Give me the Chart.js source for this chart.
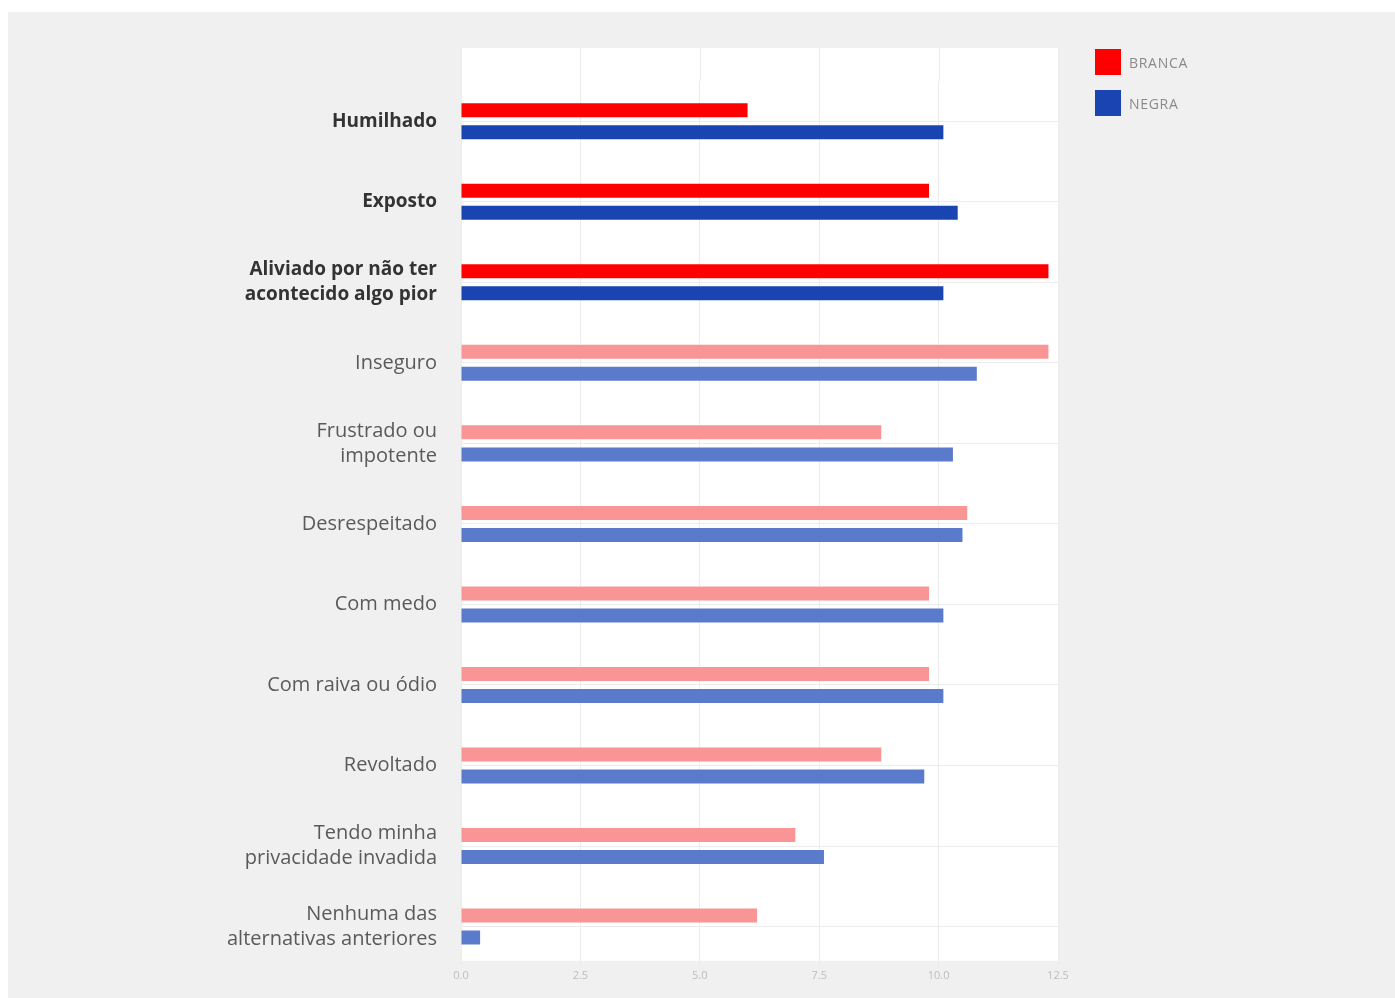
<!DOCTYPE html>
<html lang="pt">
<head>
<meta charset="utf-8">
<title>Sentimentos por raça</title>
<script src="https://cdn.jsdelivr.net/npm/chart.js@4.4.1/dist/chart.umd.min.js"></script>
<style>
    html, body {
        margin: 0;
        padding: 0;
        background: #fff;
        width: 1395px;
        height: 998px;
        overflow: hidden;
    }
    .wrap {
        position: absolute;
        left: 8px;
        top: 12px;
        width: 1387px;
        height: 986px;
        background: #f0f0f0;
    }
    #chart {
        position: absolute;
        left: 0;
        top: 0;
    }
    .legend {
        position: absolute;
        left: 1087px;
        top: 37px;
        font-family: "Open Sans", sans-serif;
        font-size: 14px;
        letter-spacing: 0.7px;
        color: #8a8a8a;
    }
    .legend-item {
        display: flex;
        align-items: center;
        height: 26px;
        margin-bottom: 15px;
    }
    .legend-box {
        width: 26px;
        height: 26px;
        margin-right: 8px;
    }
</style>
</head>
<body>
<div class="wrap">
    <canvas id="chart" width="1387" height="986"></canvas>
    <div class="legend" id="legend"></div>
</div>

<script>
const categorias = [
    'Humilhado',
    'Exposto',
    ['Aliviado por não ter', 'acontecido algo pior'],
    'Inseguro',
    ['Frustrado ou', 'impotente'],
    'Desrespeitado',
    'Com medo',
    'Com raiva ou ódio',
    'Revoltado',
    ['Tendo minha', 'privacidade invadida'],
    ['Nenhuma das', 'alternativas anteriores']
];

const branca = [6.0, 9.8, 12.3, 12.3, 8.8, 10.6, 9.8, 9.8, 8.8, 7.0, 6.2];
const negra = [10.1, 10.4, 10.1, 10.8, 10.3, 10.5, 10.1, 10.1, 9.7, 7.6, 0.4];

const xTicks = [0, 2.5, 5, 7.5, 10, 12.5];

// os três primeiros itens vêm em destaque
const destaques = 3;

const cores = {
    branca: '#ff0000',
    brancaClara: '#f99595',
    negra: '#1a44b2',
    negraClara: '#5a7acb'
};

const corGrade = '#ececec';


// fundo branco da área do gráfico (um pouco maior que a área das categorias)
const plotBackground = {
    id: 'plotBackground',
    beforeDraw(chart) {
        const { ctx, chartArea } = chart;
        const topo = chartArea.top - 33;
        ctx.save();
        ctx.fillStyle = '#ffffff';
        ctx.fillRect(chartArea.left, topo, chartArea.right - chartArea.left, chartArea.bottom - topo - 6);

        // as linhas verticais da grade sobem até o topo do fundo branco
        const xScale = chart.scales.x;
        ctx.strokeStyle = corGrade;
        ctx.lineWidth = 1;
        xScale.ticks.forEach(t => {
            const px = Math.round(xScale.getPixelForValue(t.value)) + 0.5;
            ctx.beginPath();
            ctx.moveTo(px, topo);
            ctx.lineTo(px, chartArea.top);
            ctx.stroke();
        });
        ctx.restore();
    }
};


function buildLegend(chart) {
    const legendEl = document.getElementById('legend');
    const fortes = [cores.branca, cores.negra];
    chart.data.datasets.forEach((ds, i) => {
        const item = document.createElement('div');
        item.className = 'legend-item';
        const box = document.createElement('span');
        box.className = 'legend-box';
        box.style.background = fortes[i];
        const label = document.createElement('span');
        label.textContent = ds.label;
        item.appendChild(box);
        item.appendChild(label);
        legendEl.appendChild(item);
    });
}


document.addEventListener('DOMContentLoaded', () => {
    const ctx = document.getElementById('chart').getContext('2d');

    const data = {
        labels: categorias,
        datasets: [{
            label: 'BRANCA',
            data: branca,
            backgroundColor: c => c.dataIndex < destaques ? cores.branca : cores.brancaClara
        }, {
            label: 'NEGRA',
            data: negra,
            backgroundColor: c => c.dataIndex < destaques ? cores.negra : cores.negraClara
        }]
    };

    const config = {
        type: 'bar',
        data: data,
        plugins: [plotBackground],
        options: {
            indexAxis: 'y',
            responsive: false,
            animation: false,
            categoryPercentage: 0.547,
            barPercentage: 0.636,
            layout: {
                padding: { top: 69, right: 337, bottom: 14, left: 0 }
            },
            plugins: {
                legend: { display: false },
                tooltip: { enabled: false }
            },
            scales: {
                x: {
                    min: 0,
                    max: 12.5,
                    afterBuildTicks: scale => {
                        scale.ticks = xTicks.map(v => ({ value: v }));
                    },
                    border: { display: false },
                    grid: {
                        color: corGrade,
                        drawTicks: false
                    },
                    ticks: {
                        padding: 2,
                        color: '#bdbdbd',
                        font: { family: 'Open Sans', size: 11 },
                        callback: v => Number(v).toFixed(1)
                    }
                },
                y: {
                    afterFit: scale => {
                        scale.width = 453;
                        // sem folga extra para os rótulos nas pontas
                        scale.paddingTop = 0;
                        scale.paddingBottom = 0;
                    },
                    border: { display: false },
                    grid: {
                        offset: false,
                        color: corGrade,
                        drawTicks: false
                    },
                    ticks: {
                        padding: 24,
                        color: c => c.index < destaques ? '#333333' : '#5a5a5a',
                        font: c => c.index < destaques
                            ? { family: 'Open Sans', size: 19, weight: 'bold', lineHeight: 1.32 }
                            : { family: 'Open Sans', size: 20, weight: 'normal', lineHeight: 1.25 }
                    }
                }
            }
        }
    };

    const chart = new Chart(ctx, config);
    buildLegend(chart);
});
</script>
</body>
</html>
